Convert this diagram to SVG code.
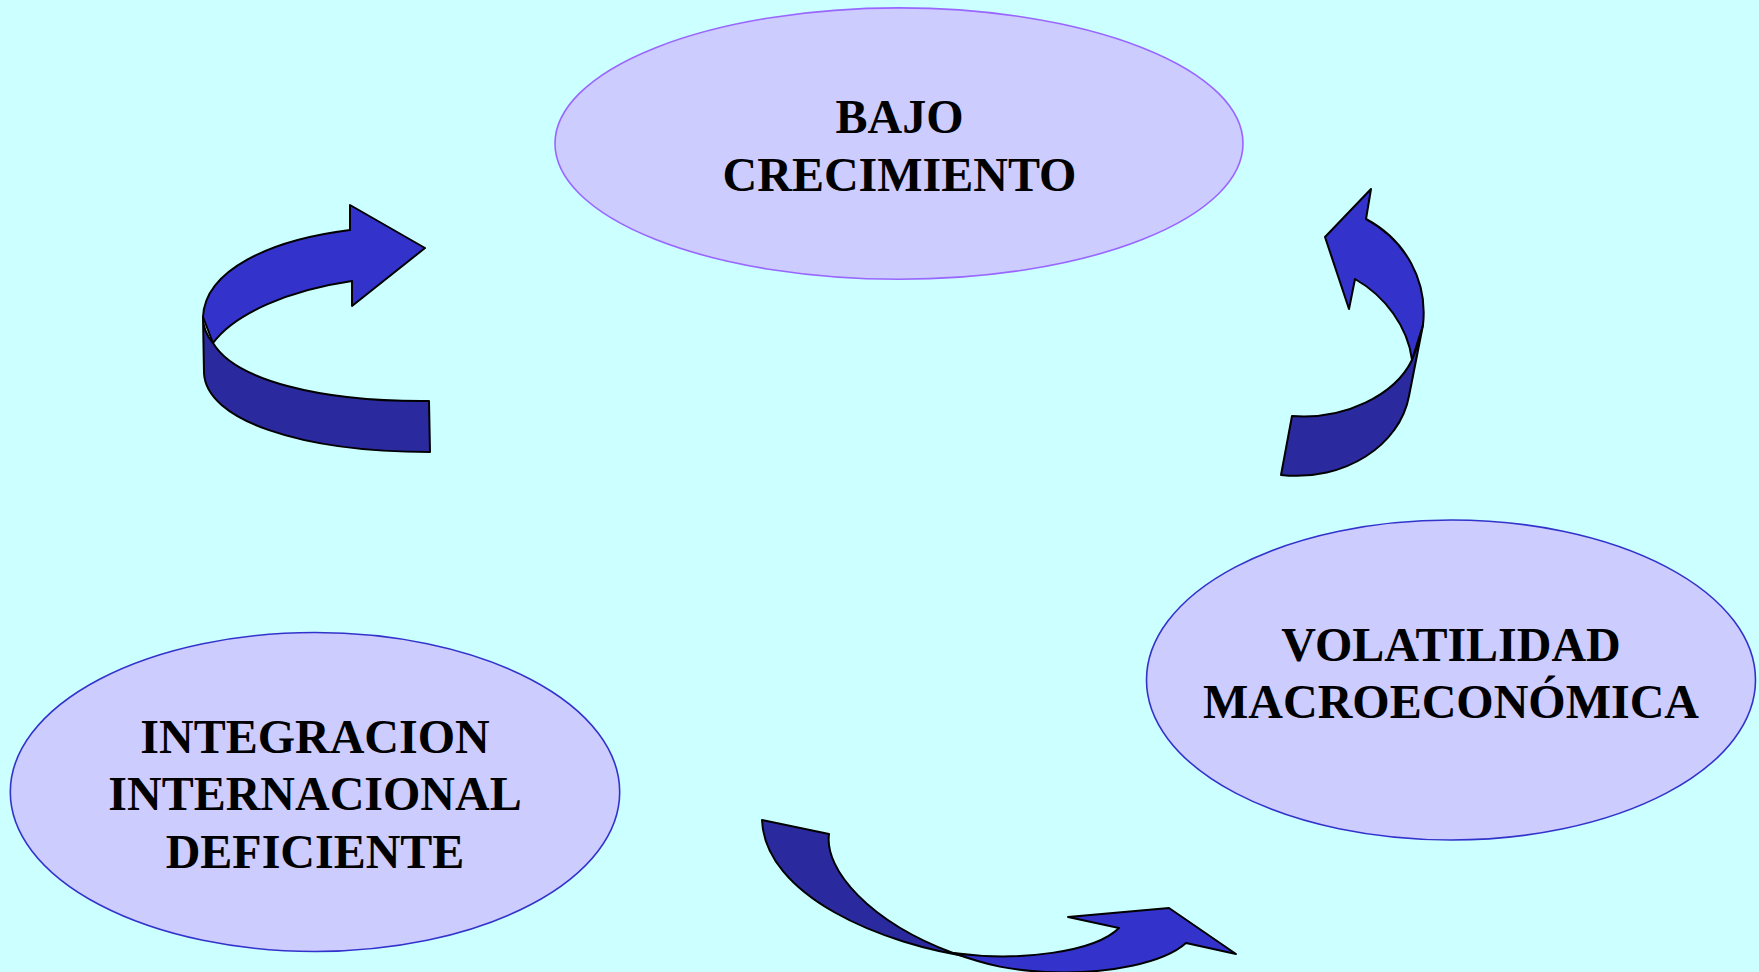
<svg xmlns="http://www.w3.org/2000/svg" width="1759" height="972" viewBox="0 0 1759 972">
<style>
.node ellipse{fill:#CCCCFF;stroke-width:1.6}
.lbl{font-family:"Liberation Serif","Times New Roman",serif;font-weight:bold;font-size:48px;fill:#000;text-anchor:middle}
.lt{fill:#3333CC;stroke:#000;stroke-width:2;stroke-linejoin:round}
.dk{fill:#2A2A9E;stroke:#000;stroke-width:2;stroke-linejoin:round}
</style>
<rect width="1759" height="972" fill="#CCFFFF"/>
<g id="connectors">
  <g id="arrow-left">
    <path class="lt" d="M203,317 C205,270 270,240 350,230 L350,205 L425,248 L352,306 L352,281 C290,290 235,313 213,343 Z"/>
    <path class="dk" d="M203,317 L204,373 C206,420 300,452 430,452 L429,401 C320,402 235,380 213,343 C206,335 203,326 203,317 Z"/>
  </g>
  <g id="arrow-right">
    <path class="lt" d="M1355,279 C1385,296 1408,327 1412,360 L1423,325 C1428,280 1405,240 1366,219 L1371,189 L1325,237 L1349,309 Z"/>
    <path class="dk" d="M1412,360 C1395,395 1345,420 1292,416 L1281,475 C1345,482 1400,445 1409,396 L1423,325 C1420,340 1416,350 1412,360 Z"/>
  </g>
  <g id="arrow-bottom">
    <path class="dk" d="M762,820 L829,834 C824,870 870,922 953,953 L978,958 C880,945 765,895 762,820 Z"/>
    <path class="lt" d="M953,953 C1020,962 1095,952 1119,928 L1068,917 L1169,908 L1236,954 L1186,943 C1165,962 1110,975 1045,972 C1010,970 990,966 953,953 Z"/>
  </g>
</g>
<g id="node-bajo" class="node">
  <ellipse cx="899" cy="143.6" rx="344" ry="135.7" stroke="#9966FF"/>
  <text class="lbl" x="899.5" y="132.7">BAJO</text>
  <text class="lbl" x="899.5" y="190.7">CRECIMIENTO</text>
</g>
<g id="node-volatilidad" class="node">
  <ellipse cx="1451" cy="680" rx="304.5" ry="160" stroke="#3333CC"/>
  <text class="lbl" x="1451" y="660.5">VOLATILIDAD</text>
  <text class="lbl" x="1451" y="717.5">MACROECONÓMICA</text>
</g>
<g id="node-integracion" class="node">
  <ellipse cx="315" cy="792" rx="304.7" ry="159.5" stroke="#3333CC"/>
  <text class="lbl" x="315" y="753.3">INTEGRACION</text>
  <text class="lbl" x="315" y="810">INTERNACIONAL</text>
  <text class="lbl" x="315" y="867.7">DEFICIENTE</text>
</g>
</svg>
